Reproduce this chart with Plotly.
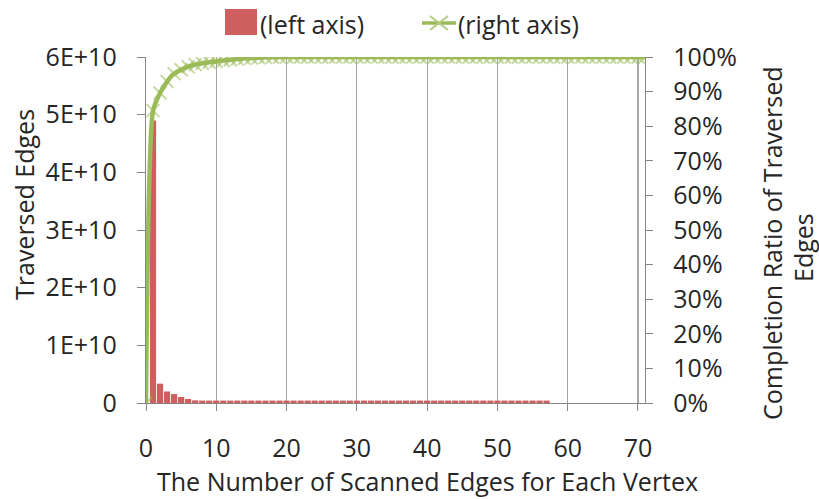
import plotly.graph_objects as go

# ---- data ----
bar_x = list(range(1, 58))
bar_vals = [4.9e10, 3.35e9, 2.0e9, 1.55e9, 1.05e9, 0.7e9, 0.46e9] + [0.42e9] * 50

line_x = list(range(0, 72))
ratio_vals = [0.0, 0.845, 0.896, 0.929, 0.952, 0.963, 0.972, 0.978, 0.982, 0.985,
              0.987, 0.990, 0.992, 0.994, 0.996, 0.997, 0.998, 0.999, 0.9995, 0.9997] + [1.0] * 52

left_ticks = [0, 1e10, 2e10, 3e10, 4e10, 5e10, 6e10]
left_labels = ["0", "1E+10", "2E+10", "3E+10", "4E+10", "5E+10", "6E+10"]
x_ticks = [0, 10, 20, 30, 40, 50, 60, 70]

FONT = "Open Sans"
FS = 25
TXT = "#262626"
AX = "#868686"
RED = "#cf5f5e"
GREEN = "#9bbb59"
MARK = "rgba(155,187,89,0.55)"

W, H = 819, 499
PL, PR, PT, PB = 146, 645, 57, 403          # plot area in window pixels
PW, PH = PR - PL, PB - PT


def px(x):
    return (x - PL) / PW


def py(y):
    return (PB - y) / PH


fig = go.Figure()
fig.add_trace(go.Bar(x=bar_x, y=bar_vals, name="(left axis)", marker_color=RED,
                     marker_line_width=0, yaxis="y", showlegend=False))
fig.add_trace(go.Scatter(x=line_x, y=ratio_vals, mode="markers", yaxis="y2", showlegend=False,
                         marker=dict(symbol="x-thin", size=13, line=dict(width=2, color=MARK))))
fig.add_trace(go.Scatter(x=line_x, y=ratio_vals, mode="lines", yaxis="y2", name="(right axis)",
                         showlegend=False,
                         line=dict(color=GREEN, width=4.5, shape="spline", smoothing=0.6)))

shapes = [
    # legend: red box
    dict(type="rect", xref="paper", yref="paper", x0=px(225), x1=px(257), y0=py(35), y1=py(9),
         fillcolor=RED, line=dict(width=0)),
    # legend: green line with cross
    dict(type="line", xref="paper", yref="paper", x0=px(422), x1=px(456), y0=py(23), y1=py(23),
         line=dict(color=GREEN, width=3.5)),
    dict(type="line", xref="paper", yref="paper", x0=px(430), x1=px(448), y0=py(16), y1=py(30),
         line=dict(color="#b3cc84", width=2)),
    dict(type="line", xref="paper", yref="paper", x0=px(430), x1=px(448), y0=py(30), y1=py(16),
         line=dict(color="#b3cc84", width=2)),
]

annotations = [
    dict(text="(left axis)", xref="paper", yref="paper", x=px(258), y=py(24),
         xanchor="left", yanchor="middle", showarrow=False),
    dict(text="(right axis)", xref="paper", yref="paper", x=px(456), y=py(24),
         xanchor="left", yanchor="middle", showarrow=False),
    dict(text="The Number of Scanned Edges for Each Vertex", xref="paper", yref="paper",
         x=px(427), y=py(481), showarrow=False, xanchor="center", yanchor="middle"),
    dict(text="Traversed Edges", xref="paper", yref="paper", textangle=-90,
         x=px(24), y=py(205), showarrow=False, xanchor="center", yanchor="middle"),
    dict(text="Completion Ratio of Traversed", xref="paper", yref="paper",
         textangle=-90, x=px(772), y=py(243), showarrow=False,
         xanchor="center", yanchor="middle"),
    dict(text="Edges", xref="paper", yref="paper",
         textangle=-90, x=px(803), y=py(248), showarrow=False,
         xanchor="center", yanchor="middle"),
]

fig.update_layout(
    width=W, height=H,
    margin=dict(l=PL, r=W - PR, t=PT, b=H - PB, autoexpand=False),
    paper_bgcolor="white", plot_bgcolor="white",
    font=dict(family=FONT, size=FS, color=TXT),
    bargap=0.12,
    showlegend=False,
    hovermode=False,
    xaxis=dict(range=[0, 71], tickvals=x_ticks, showline=True, linecolor=AX, linewidth=1.3,
               ticks="outside", ticklen=7, tickcolor=AX, showgrid=True, gridcolor="#a6a6a6",
               gridwidth=1.2, zeroline=False, ticklabelstandoff=16),
    yaxis=dict(range=[0, 6e10], tickvals=left_ticks, ticktext=left_labels, showline=True,
               linecolor=AX, linewidth=1.3, ticks="outside", ticklen=8, tickcolor=AX,
               showgrid=False, zeroline=False, ticklabelstandoff=15),
    yaxis2=dict(range=[0, 1], overlaying="y", side="right", tickformat=".0%", dtick=0.1,
                showline=True, linecolor=AX, linewidth=1.3, ticks="outside", ticklen=7,
                tickcolor=AX, showgrid=False, zeroline=False, ticklabelstandoff=15),
    shapes=shapes,
    annotations=annotations,
)

# remove the default 8px page margin so the figure fills the window exactly
fig.write_html("out.html", config={"displayModeBar": False, "staticPlot": True},
               post_script="document.body.style.margin='0px';document.body.style.overflow='hidden';")
